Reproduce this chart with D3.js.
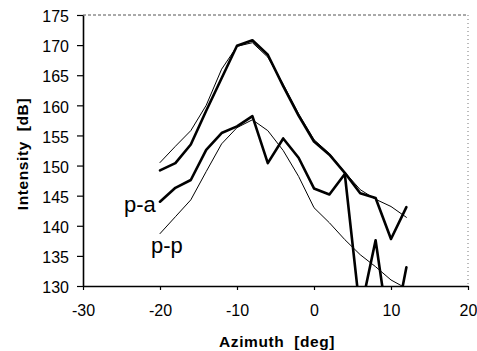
<!DOCTYPE html>
<html>
<head>
<meta charset="utf-8">
<script src="https://cdn.jsdelivr.net/npm/d3@7"></script>
<style>
  html, body { margin: 0; padding: 0; background: #fff; }
  svg { display: block; }
  text { font-family: "Liberation Sans", Arial, sans-serif; fill: #000; }
</style>
</head>
<body>
<div id="chart"></div>
<script>
// ---- data ----
const azimuth = [-20, -18, -16, -14, -12, -10, -8, -6, -4, -2, 0, 2, 4, 6, 8, 10, 12];
const upperThick = [149.2, 150.4, 153.5, 159.1, 164.5, 169.9, 170.8, 168.4, 163.2, 158.3, 154.0, 151.8, 148.8, 145.4, 144.6, 137.8, 143.1];
const upperThin  = [150.5, 153.2, 155.8, 160.0, 166.0, 169.8, 170.4, 168.0, 163.5, 158.6, 154.3, 152.0, 148.9, 146.0, 144.4, 143.2, 141.4];
const paValues   = [144.0, 146.3, 147.6, 152.6, 155.4, 156.5, 158.2, 150.4, 154.5, 151.3, 146.2, 145.2, 148.6, 125.5, 137.6, 120.0, 133.1];
const ppValues   = [138.7, 141.5, 144.3, 149.0, 153.6, 156.3, 157.6, 155.8, 152.5, 148.2, 143.0, 140.5, 137.7, 135.2, 133.2, 131.0, 129.6];
const xTicks = [-30, -20, -10, 0, 10, 20];
const yTicks = [130, 135, 140, 145, 150, 155, 160, 165, 170, 175];
const seriesLabels = ["p-a", "p-p"];

// ---- layout ----
const W = 477, H = 351;
const L = 83, R = 468, T = 15, B = 286;

const svg = d3.select("#chart").append("svg").attr("width", W).attr("height", H);

const x = d3.scaleLinear().domain([-30, 20]).range([L, R]);
const y = d3.scaleLinear().domain([130, 175]).range([B, T]);

// frame: dotted top and right
svg.append("line").attr("x1", L).attr("x2", R).attr("y1", T).attr("y2", T)
  .attr("stroke", "#555").attr("stroke-width", 1).attr("stroke-dasharray", "3,2");
svg.append("line").attr("x1", R).attr("x2", R).attr("y1", T).attr("y2", B)
  .attr("stroke", "#777").attr("stroke-width", 1).attr("stroke-dasharray", "1,3");

// clip
svg.append("clipPath").attr("id", "plotclip")
  .append("rect").attr("x", L).attr("y", T - 2).attr("width", R - L).attr("height", B - T + 2);

const g = svg.append("g").attr("clip-path", "url(#plotclip)");

function drawLine(vals, width) {
  const data = azimuth.map((a, i) => [a, vals[i]]);
  g.append("path")
    .datum(data)
    .attr("fill", "none")
    .attr("stroke", "#000")
    .attr("stroke-width", width)
    .attr("stroke-linejoin", "round")
    .attr("stroke-linecap", "round")
    .attr("d", d3.line().x(d => x(d[0])).y(d => y(d[1])));
}
drawLine(upperThin, 1);
drawLine(ppValues, 1);
drawLine(upperThick, 2.6);
drawLine(paValues, 2.6);

// axes
const xAxis = d3.axisBottom(x).tickValues(xTicks).tickSize(4).tickSizeOuter(0).tickPadding(15)
  .tickFormat(d => d);
const gx = svg.append("g").attr("transform", `translate(0,${B})`).call(xAxis);
gx.select(".domain").attr("stroke-width", 1.6);
gx.selectAll("line").attr("stroke-width", 1.2);
gx.selectAll("text").attr("font-size", "16px").attr("font-family", "Liberation Sans, Arial, sans-serif");

const yAxis = d3.axisLeft(y).tickValues(yTicks).tickSize(6).tickSizeOuter(0).tickPadding(8);
const gy = svg.append("g").attr("transform", `translate(${L},0)`).call(yAxis);
gy.select(".domain").attr("stroke-width", 1.6);
gy.selectAll("line").attr("stroke-width", 1.2);
gy.selectAll("text").attr("font-size", "16px").attr("dy", "0.42em")
  .attr("font-family", "Liberation Sans, Arial, sans-serif");

// axis titles
svg.append("text").attr("x", 277).attr("y", 347).attr("text-anchor", "middle")
  .attr("font-size", "15.5px").attr("font-weight", "bold").style("letter-spacing", "0.6px")
  .attr("xml:space", "preserve")
  .text("Azimuth  [deg]");
svg.append("text").attr("transform", "translate(28,154) rotate(-90)").attr("text-anchor", "middle")
  .attr("font-size", "15.5px").attr("font-weight", "bold").style("letter-spacing", "0.6px")
  .attr("xml:space", "preserve")
  .text("Intensity  [dB]");

// series labels
svg.append("text").attr("x", 124).attr("y", 212).attr("font-size", "22px").text(seriesLabels[0]);
svg.append("text").attr("x", 151).attr("y", 253).attr("font-size", "22px").text(seriesLabels[1]);
</script>
</body>
</html>
